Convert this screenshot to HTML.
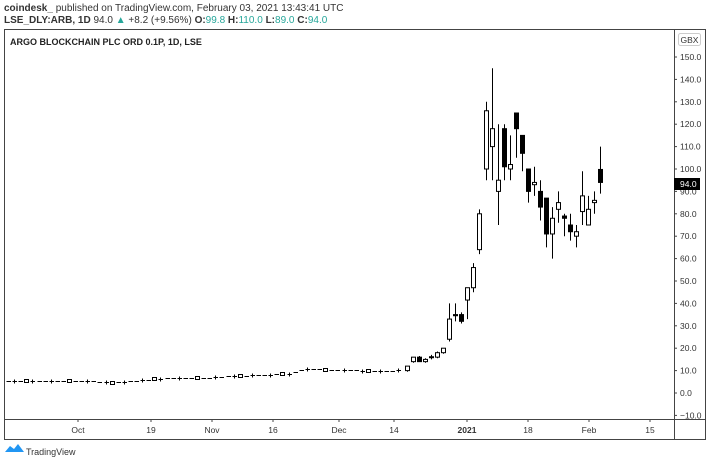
<!DOCTYPE html>
<html><head><meta charset="utf-8"><style>
body{margin:0;background:#fff;width:710px;height:458px;overflow:hidden;font-family:"Liberation Sans",sans-serif;}
svg{position:absolute;left:0;top:0}
</style></head><body>
<svg width="710" height="458" viewBox="0 0 710 458" id="s" font-family="Liberation Sans, sans-serif">
<text x="4" y="11" font-size="10" fill="#333"><tspan font-weight="bold">coindesk_</tspan> published on TradingView.com, February 03, 2021 13:43:41 UTC</text>
<text x="4" y="23" font-size="10" fill="#333"><tspan font-weight="bold">LSE_DLY:ARB, 1D</tspan> 94.0 <tspan fill="#26a69a">▲</tspan> +8.2 (+9.56%) <tspan font-weight="bold">O:</tspan><tspan fill="#26a69a">99.8</tspan> <tspan font-weight="bold">H:</tspan><tspan fill="#26a69a">110.0</tspan> <tspan font-weight="bold">L:</tspan><tspan fill="#26a69a">89.0</tspan> <tspan font-weight="bold">C:</tspan><tspan fill="#26a69a">94.0</tspan></text>
<rect x="4.5" y="29.5" width="701" height="410" fill="none" stroke="#444" stroke-width="1"/>
<line x1="674.5" y1="29" x2="674.5" y2="439" stroke="#444"/>
<line x1="4" y1="419.5" x2="705" y2="419.5" stroke="#444"/>
<text x="10" y="45" font-size="9" font-weight="bold" fill="#222">ARGO BLOCKCHAIN PLC ORD 0.1P, 1D, LSE</text>
<rect x="678.5" y="33.5" width="22" height="12" rx="2" fill="#fff" stroke="#ccc"/>
<text x="689.5" y="43" font-size="8.5" text-anchor="middle" fill="#333">GBX</text>
<g id="ax" font-size="8.5" fill="#333"></g>
<g id="c"></g>
<rect x="674" y="178" width="26" height="12" fill="#000"/>
<text x="680" y="187" font-size="8.5" fill="#fff">94.0</text>
<g font-size="8.5" fill="#333" text-anchor="middle">
<text x="78" y="433">Oct</text><text x="151" y="433">19</text><text x="212" y="433">Nov</text><text x="273" y="433">16</text><text x="339" y="433">Dec</text><text x="394" y="433">14</text><text x="467" y="433" font-weight="bold">2021</text><text x="528" y="433">18</text><text x="589" y="433">Feb</text><text x="650" y="433">15</text>
</g>
<g stroke="#444"><line x1="78" y1="419" x2="78" y2="422"/><line x1="151" y1="419" x2="151" y2="422"/><line x1="212" y1="419" x2="212" y2="422"/><line x1="273" y1="419" x2="273" y2="422"/><line x1="339" y1="419" x2="339" y2="422"/><line x1="394" y1="419" x2="394" y2="422"/><line x1="467" y1="419" x2="467" y2="422"/><line x1="528" y1="419" x2="528" y2="422"/><line x1="589" y1="419" x2="589" y2="422"/><line x1="650" y1="419" x2="650" y2="422"/></g>
<path d="M5 452 l5 -6 l4 3 l4 -5 l6 8 z" fill="#2196f3"/>
<text x="26" y="455" font-size="9" fill="#333">TradingView</text>
</svg>
<script>
var ns="http://www.w3.org/2000/svg";
function Y(p){return 393-p*2.24;}
function el(t,a,par){var e=document.createElementNS(ns,t);for(var k in a)e.setAttribute(k,a[k]);document.getElementById(par).appendChild(e);return e;}
for(var v=-10;v<=150;v+=10){var y=Y(v);el("line",{x1:674,y1:y,x2:677,y2:y,stroke:"#444"},"ax");var t=el("text",{x:680,y:y+3},"ax");t.textContent=(v<0?"−"+(-v):v)+".0";}
function candle(x,o,h,l,c){
 el("line",{x1:x+0.5,y1:Y(h),x2:x+0.5,y2:Y(l),stroke:"#000","stroke-width":1},"c");
 var top=Y(Math.max(o,c)),bot=Y(Math.min(o,c));var hgt=Math.max(bot-top,1);
 el("rect",{x:x-1.5,y:top,width:4,height:hgt,fill:c>=o?"#fff":"#000",stroke:"#000","stroke-width":1},"c");
}
function small(x,p,k){
 var y=Math.round(Y(p))+0.5;
 if(k==0){el("rect",{x:x-1.5,y:y-2,width:4,height:3,fill:"#fff",stroke:"#000","stroke-width":1},"c");}
 else{el("line",{x1:x-1.5,y1:y,x2:x+3,y2:y,stroke:"#000","stroke-width":1},"c");
  if(k==2)el("line",{x1:x+0.5,y1:y-2,x2:x+0.5,y2:y+2,stroke:"#000","stroke-width":1},"c");}
}
var pts=[[8,5.5],[95,5.2],[110,4.5],[140,5.5],[165,6.5],[200,6.5],[230,7.5],[290,8.5],[305,11],[320,10.5],[360,10],[395,9.8],[401,10.5]];
function interp(x){for(var i=0;i<pts.length-1;i++){if(x<=pts[i+1][0]){var f=(x-pts[i][0])/(pts[i+1][0]-pts[i][0]);return pts[i][1]+f*(pts[i+1][1]-pts[i][1]);}}return pts[pts.length-1][1];}
var i=0;for(var x=8;x<=402;x+=6.1){var p=interp(x);var k=(i%7==3)?0:((i%3==1)?2:1);small(Math.round(x),p,k);i++;}
var D=[[407,10,12,9.5,12],[413,14,16,13.5,16],[419,16,16.5,14,14],[425,14,15.5,13.5,15],[431,16,17,15,16.2],[437,16,18.5,15.5,18],[443,18,20,17.5,20],
[449,24,40,23,33],[455,35,40,32,34.5],[461,35,36,31,32],[467,41.5,47,33,47],[473,47,58,45,56],[479,64,82,62,80],[486,100,130,95,126],[492,110,145,95,118],[498,90,120,75,95],[504,118,120,95,101],[510,100,115,95,102],[516,125,125,105,118],[522,115,115,99,107],[528,100,100,85,90],[534,93,101,88,94],[540,90,95,77,83],[546,87,87,65,71],[552,71,83,60,78],[558,82,90,76,85],[564,79,80,70,78],[570,75,80,68,72],[576,70,75,65,72],[582,81,99,75,88],[588,75,88,75,82],[594,85,90,80,86],[600,99.8,110,89,94]];
D.forEach(function(d){candle(d[0],d[1],d[2],d[3],d[4]);});
</script>
</body></html>
